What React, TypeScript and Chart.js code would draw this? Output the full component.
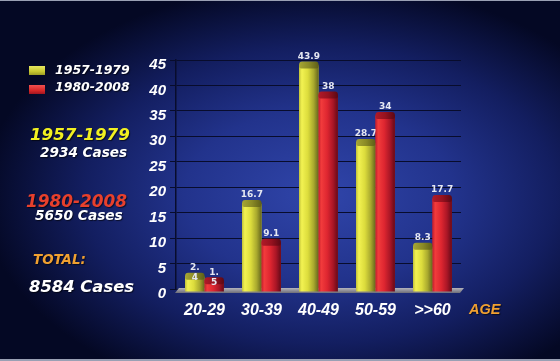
import React, { useEffect, useRef } from 'react';
import { Chart, registerables } from 'chart.js';

Chart.register(...registerables);

const categories = ['20-29', '30-39', '40-49', '50-59', '>>60'];
const seriesNames = ['1957-1979', '1980-2008'];
const values1957 = [2.4, 16.7, 43.9, 28.7, 8.3];
const values1980 = [1.5, 9.1, 38, 34, 17.7];
const valueLabels1957 = ['2.\n4', '16.7', '43.9', '28.7', '8.3'];
const valueLabels1980 = ['1.\n5', '9.1', '38', '34', '17.7'];
const yMin = 0;
const yMax = 45;
const yStep = 5;
const axisTitle = 'AGE';
const cases1957 = '2934 Cases';
const cases1980 = '5650 Cases';
const totalLabel = 'TOTAL:';
const totalCases = '8584 Cases';

const bodyGradients = [
  [
    [0, '#c4c43a'],
    [0.14, '#f2f252'],
    [0.45, '#dcdc3c'],
    [0.75, '#a9a92e'],
    [1, '#66661c'],
  ],
  [
    [0, '#c21c2c'],
    [0.14, '#f23c3c'],
    [0.45, '#de2630'],
    [0.75, '#aa1626'],
    [1, '#650a18'],
  ],
];
const capColors = [
  ['#a6a634', '#8a8a26', '#5e5e18'],
  ['#b01a28', '#96121f', '#5c0814'],
];
const labelSets = [valueLabels1957, valueLabels1980];

const decorPlugin = {
  id: 'decor',
  beforeDraw(chart: any) {
    const { ctx, width, height } = chart;
    ctx.save();
    ctx.fillStyle = '#040824';
    ctx.fillRect(0, 0, width, height);
    ctx.translate(320, 195);
    ctx.scale(1.35, 0.85);
    const g = ctx.createRadialGradient(0, 0, 0, 0, 0, 250);
    g.addColorStop(0, '#3045aa');
    g.addColorStop(0.4, '#22338c');
    g.addColorStop(0.7, '#131e60');
    g.addColorStop(1, 'rgba(4,8,36,1)');
    ctx.fillStyle = g;
    ctx.fillRect(-260, -260, 520, 520);
    ctx.restore();
    ctx.save();
    ctx.fillStyle = '#9aa0b4';
    ctx.fillRect(0, 0, width, 1);
    ctx.fillRect(0, height - 2, width, 2);
    ctx.restore();
  },
  beforeDatasetsDraw(chart: any) {
    const { ctx, chartArea } = chart;
    const base = chart.scales.y.getPixelForValue(0);
    ctx.save();
    ctx.beginPath();
    ctx.moveTo(chartArea.left + 3, base - 1);
    ctx.lineTo(chartArea.right + 3, base - 1);
    ctx.lineTo(chartArea.right - 1, base + 4);
    ctx.lineTo(chartArea.left - 1, base + 4);
    ctx.closePath();
    const fg = ctx.createLinearGradient(0, base - 1, 0, base + 4);
    fg.addColorStop(0, '#b4b4bc');
    fg.addColorStop(1, '#6e6e78');
    ctx.fillStyle = fg;
    ctx.fill();
    ctx.restore();
  },
  afterDatasetsDraw(chart: any) {
    const { ctx } = chart;
    chart.data.datasets.forEach((_ds: any, di: number) => {
      const meta = chart.getDatasetMeta(di);
      meta.data.forEach((el: any, i: number) => {
        const { x, y, base, width } = el.getProps(['x', 'y', 'base', 'width'], true);
        const l = x - width / 2;
        const r = x + width / 2;
        ctx.save();
        const g = ctx.createLinearGradient(l, 0, r, 0);
        bodyGradients[di].forEach(([o, c]: any) => g.addColorStop(o, c));
        ctx.fillStyle = g;
        ctx.fillRect(l, y - 1, width, base + 3 - (y - 1));
        const cg = ctx.createLinearGradient(l, 0, r, 0);
        cg.addColorStop(0, capColors[di][0]);
        cg.addColorStop(0.5, capColors[di][1]);
        cg.addColorStop(1, capColors[di][2]);
        ctx.fillStyle = cg;
        ctx.beginPath();
        (ctx as any).roundRect(l, y - 4, width, 7, [3, 3, 2, 2]);
        ctx.fill();
        ctx.restore();

        const lines = labelSets[di][i].split('\n');
        ctx.save();
        ctx.font = 'bold 9px "DejaVu Sans"';
        ctx.fillStyle = '#e6e8f2';
        ctx.textAlign = 'center';
        ctx.textBaseline = 'middle';
        lines.forEach((t: string, li: number) => {
          ctx.fillText(t, x, y - 9 + li * 10);
        });
        ctx.restore();
      });
    });
  },
};

const txt = (
  text: string,
  left: number,
  baseline: number,
  size: number,
  color: string,
  family = '"DejaVu Sans"',
  weight = 'bold'
) => (
  <div
    style={{
      position: 'absolute',
      left,
      top: baseline - 0.846 * size,
      fontFamily: family,
      fontWeight: weight as any,
      fontStyle: 'italic',
      fontSize: size,
      lineHeight: `${size}px`,
      color,
      whiteSpace: 'nowrap',
      textShadow: '1px 1px 1px rgba(0,0,0,0.6)',
    }}
  >
    {text}
  </div>
);

export default function App() {
  const canvasRef = useRef<HTMLCanvasElement>(null);

  useEffect(() => {
    document.body.style.margin = '0';
    const chart = new Chart(canvasRef.current as HTMLCanvasElement, {
      type: 'bar',
      data: {
        labels: categories,
        datasets: [
          { label: seriesNames[0], data: values1957, backgroundColor: '#dcdc3c', borderWidth: 0 },
          { label: seriesNames[1], data: values1980, backgroundColor: '#de2630', borderWidth: 0 },
        ],
      },
      options: {
        animation: false,
        responsive: false,
        events: [],
        layout: { padding: { left: 140, right: 99, top: 60, bottom: 42 } },
        plugins: { legend: { display: false }, tooltip: { enabled: false }, title: { display: false } },
        datasets: { bar: { categoryPercentage: 0.68, barPercentage: 1 } },
        scales: {
          x: {
            grid: { display: false, drawTicks: false },
            border: { display: false },
            ticks: {
              color: '#ffffff',
              padding: 12,
              font: { family: '"Liberation Sans"', size: 16, weight: 'bold', style: 'italic' },
            },
            afterFit: (s: any) => {
              s.height = 30;
            },
          },
          y: {
            min: yMin,
            max: yMax,
            ticks: {
              stepSize: yStep,
              color: '#ffffff',
              padding: 4,
              labelOffset: 5,
              font: { family: '"Liberation Sans"', size: 15, weight: 'bold', style: 'italic' },
            },
            grid: { color: '#080c2c', lineWidth: 1, tickLength: 6, tickColor: '#080c2c' },
            border: { display: true, color: '#080c2c', width: 1.5 },
            afterFit: (s: any) => {
              s.width = 36;
            },
          },
        },
      },
      plugins: [decorPlugin],
    } as any);
    return () => chart.destroy();
  }, []);

  return (
    <div style={{ position: 'relative', width: 560, height: 361, overflow: 'hidden' }}>
      <canvas ref={canvasRef} width={560} height={361} style={{ display: 'block' }} />
      <div style={{ position: 'absolute', inset: 0, pointerEvents: 'none' }}>
        <div
          style={{
            position: 'absolute',
            left: 29,
            top: 66,
            width: 16,
            height: 9,
            background: 'linear-gradient(#e8e860, #c8c830 60%, #9c9c24)',
          }}
        />
        <div
          style={{
            position: 'absolute',
            left: 29,
            top: 85,
            width: 16,
            height: 9,
            background: 'linear-gradient(#f05050, #d82828 60%, #a01420)',
          }}
        />
        {txt(seriesNames[0], 55, 75, 12.5, '#ffffff')}
        {txt(seriesNames[1], 55, 92, 12.5, '#ffffff')}
        {txt(seriesNames[0], 30, 140, 16.7, '#f2f020')}
        {txt(cases1957, 40, 157.5, 13.6, '#ffffff')}
        {txt(seriesNames[1], 26, 207, 16.9, '#e8402c')}
        {txt(cases1980, 35, 220.5, 13.7, '#ffffff')}
        {txt(totalLabel, 33, 264, 13.4, '#f0a030')}
        {txt(totalCases, 29, 293, 16.4, '#ffffff')}
        {txt(axisTitle, 469, 314, 14.5, '#f0a030', '"Liberation Sans"')}
      </div>
    </div>
  );
}
